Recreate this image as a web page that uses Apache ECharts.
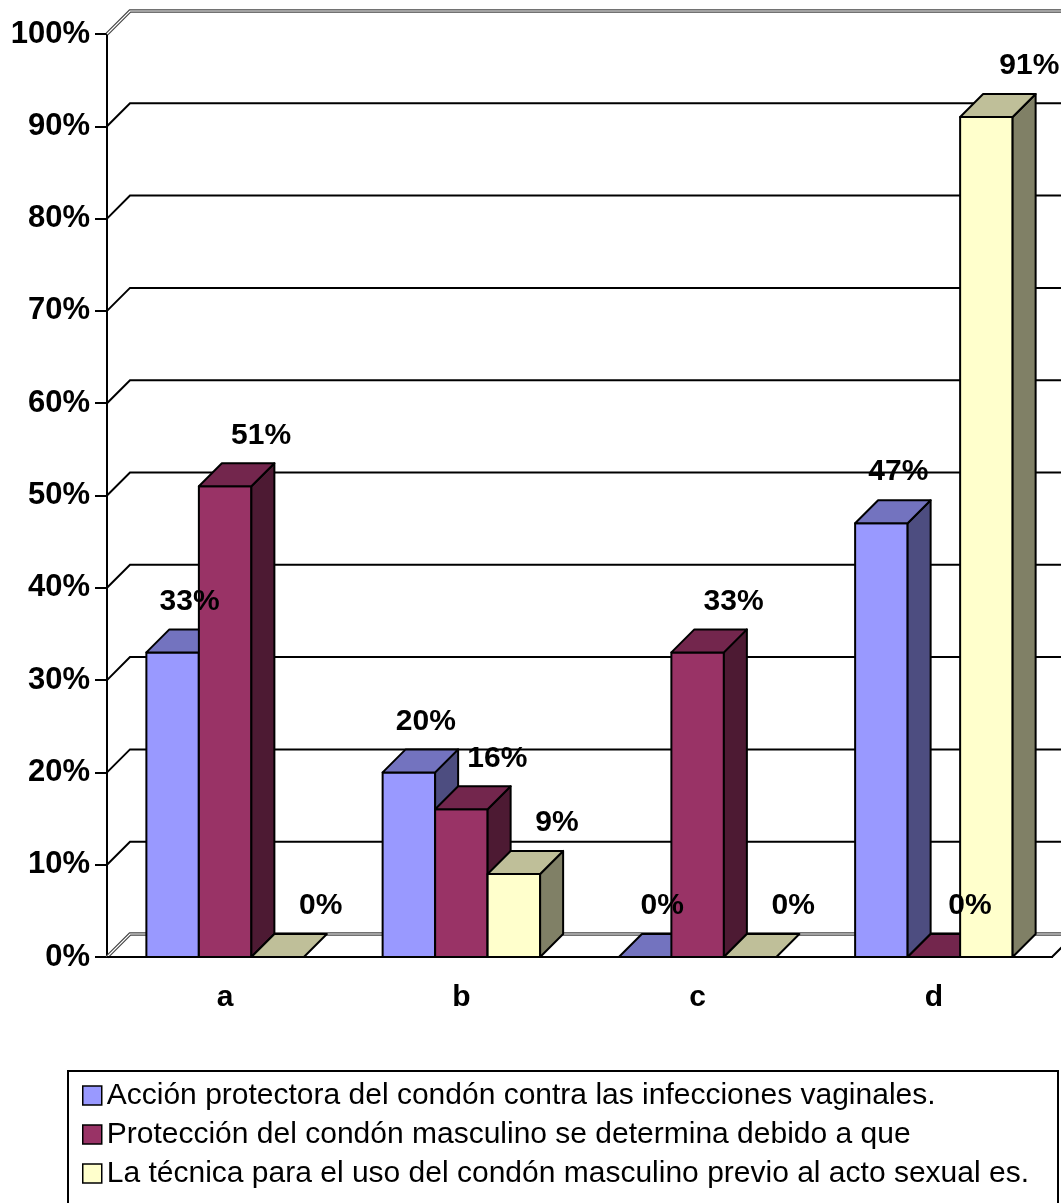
<!DOCTYPE html>
<html>
<head>
<meta charset="utf-8">
<script src="https://cdn.jsdelivr.net/npm/echarts@6/dist/echarts.min.js"></script>
<style>
  html, body { margin: 0; padding: 0; background: #fff; }
  #chart { width: 1061px; height: 1203px; }
</style>
</head>
<body>
<div id="chart"></div>
<script>
// Categories and values (percent)
const categories = ['a', 'b', 'c', 'd'];
const seriesNames = [
  'Acción protectora del condón contra las infecciones vaginales.',
  'Protección del condón masculino se determina debido a que',
  'La técnica para el uso del condón masculino previo al acto sexual es.'
];
const accionValues     = [33, 20, 0, 47];
const proteccionValues = [51, 16, 33, 0];
const tecnicaValues    = [0, 9, 0, 91];
const yTicks = [0, 10, 20, 30, 40, 50, 60, 70, 80, 90, 100];

const allValues = [accionValues, proteccionValues, tecnicaValues];

// Face shades for the pseudo-3D columns
const palette = [
  { front: '#9999FF', top: '#7373BF', side: '#4D4D80' },
  { front: '#993366', top: '#73264D', side: '#4D1A33' },
  { front: '#FFFFCC', top: '#BFBF99', side: '#808066' }
];
const DX = 23, DY = -23;            // depth offset of the 3D view
const LABEL_SHIFT = [-6, 13, 20];   // horizontal nudge of value labels per series
const FONT = "'Liberation Sans', Arial, sans-serif";

function barGeom(api, seriesIdx) {
  const cat = api.value(0), val = api.value(1);
  const base = api.coord([cat, 0]);
  const top = api.coord([cat, val]);
  const band = api.size([1, 0])[0];
  const w = band / 4.5;
  const x0 = base[0] - band / 2 + w * 0.75 + seriesIdx * w;
  return { x0: x0, x1: x0 + w, yb: base[1], yt: top[1], val: val };
}

function barRenderer(seriesIdx) {
  const c = palette[seriesIdx];
  return function (params, api) {
    const g = barGeom(api, seriesIdx);
    const st = { stroke: '#000', lineWidth: 2, lineJoin: 'round' };
    const children = [];
    if (g.yb - g.yt > 0.5) {
      children.push({ type: 'polygon', shape: { points: [[g.x0, g.yt], [g.x1, g.yt], [g.x1, g.yb], [g.x0, g.yb]] },
        style: Object.assign({ fill: c.front }, st) });
      children.push({ type: 'polygon', shape: { points: [[g.x1, g.yt], [g.x1 + DX, g.yt + DY], [g.x1 + DX, g.yb + DY], [g.x1, g.yb]] },
        style: Object.assign({ fill: c.side }, st) });
    }
    children.push({ type: 'polygon', shape: { points: [[g.x0, g.yt], [g.x1, g.yt], [g.x1 + DX, g.yt + DY], [g.x0 + DX, g.yt + DY]] },
      style: Object.assign({ fill: c.top }, st) });
    return { type: 'group', children: children };
  };
}

function labelRenderer(seriesIdx) {
  return function (params, api) {
    const g = barGeom(api, seriesIdx);
    return {
      type: 'text',
      style: {
        text: g.val + '%',
        x: (g.x0 + g.x1) / 2 + DX + LABEL_SHIFT[seriesIdx],
        y: g.yt + DY - 13,
        align: 'center',
        verticalAlign: 'bottom',
        font: 'bold 30px ' + FONT,
        fill: '#000'
      }
    };
  };
}

// Back-wall gridlines with their diagonal run to the axis, and the floor
function gridRenderer(params, api) {
  const cs = params.coordSys;
  const v = api.value(1);
  const y = api.coord([0, v])[1];
  const x0 = cs.x, W = cs.width;
  const xEnd = x0 + W + DX + 40;
  if (v === 0) {
    return { type: 'group', children: [
      { type: 'polygon', shape: { points: [[x0, y], [x0 + W, y], [x0 + W + DX, y + DY], [x0 + DX, y + DY]] },
        style: { fill: '#fff', stroke: null } },
      { type: 'polyline', shape: { points: [[x0, y], [x0 + DX, y + DY], [xEnd, y + DY]] },
        style: { stroke: '#444', lineWidth: 3.5, fill: null } },
      { type: 'polyline', shape: { points: [[x0, y], [x0 + DX, y + DY], [xEnd, y + DY]] },
        style: { stroke: '#fff', lineWidth: 1.2, fill: null } },
      { type: 'polyline', shape: { points: [[x0, y], [x0 + W, y], [x0 + W + DX, y + DY]] },
        style: { stroke: '#000', lineWidth: 2, fill: null } }
    ]};
  }
  if (v === 100) {
    return { type: 'group', children: [
      { type: 'polyline', shape: { points: [[x0, y], [x0 + DX, y + DY], [xEnd, y + DY]] },
        style: { stroke: '#444', lineWidth: 3.5, fill: null } },
      { type: 'polyline', shape: { points: [[x0, y], [x0 + DX, y + DY], [xEnd, y + DY]] },
        style: { stroke: '#fff', lineWidth: 1.2, fill: null } }
    ]};
  }
  return { type: 'polyline', shape: { points: [[x0, y], [x0 + DX, y + DY], [xEnd, y + DY]] },
    style: { stroke: '#000', lineWidth: 2, fill: null } };
}

const series = [{
  name: 'grid', type: 'custom', z: 1, silent: true,
  data: yTicks.map(v => [0, v]),
  renderItem: gridRenderer
}];
allValues.forEach((vals, i) => {
  series.push({
    name: seriesNames[i], type: 'custom', z: 2,
    itemStyle: { color: palette[i].front },
    data: vals.map((v, k) => [k, v]),
    renderItem: barRenderer(i)
  });
});
allValues.forEach((vals, i) => {
  series.push({
    name: 'label' + i, type: 'custom', z: 5, silent: true,
    data: vals.map((v, k) => [k, v]),
    renderItem: labelRenderer(i)
  });
});

const chart = echarts.init(document.getElementById('chart'), null, { renderer: 'canvas' });
chart.setOption({
  animation: false,
  backgroundColor: '#fff',
  grid: { left: 107, right: 9, top: 34, bottom: 246 },
  xAxis: {
    type: 'category',
    data: categories,
    axisTick: { show: false },
    axisLine: { show: true, lineStyle: { color: '#000', width: 2 } },
    axisLabel: { margin: 26, color: '#000', fontFamily: FONT, fontWeight: 'bold', fontSize: 30 },
    splitLine: { show: false }
  },
  yAxis: {
    type: 'value', min: 0, max: 100, interval: 10,
    axisLine: { show: true, lineStyle: { color: '#000', width: 2 } },
    axisTick: { show: true, length: 12, lineStyle: { color: '#000', width: 2 } },
    axisLabel: { formatter: '{value}%', margin: 17, color: '#000', fontFamily: FONT, fontWeight: 'bold', fontSize: 31 },
    splitLine: { show: false }
  },
  legend: {
    orient: 'vertical', left: 77, top: 1074,
    itemWidth: 19, itemHeight: 19, itemGap: 6,
    icon: 'rect',
    selectedMode: false,
    textStyle: { fontFamily: FONT, fontSize: 30, color: '#000', lineHeight: 33 },
    data: seriesNames.map((n, i) => ({
      name: n, icon: 'rect',
      itemStyle: { color: palette[i].front, borderColor: '#000', borderWidth: 1.5 }
    }))
  },
  graphic: [{
    type: 'rect', left: 67, top: 1070, z: -1,
    shape: { width: 990, height: 200 },
    style: { fill: '#fff', stroke: '#000', lineWidth: 2 }
  }],
  series: series
});
</script>
</body>
</html>
